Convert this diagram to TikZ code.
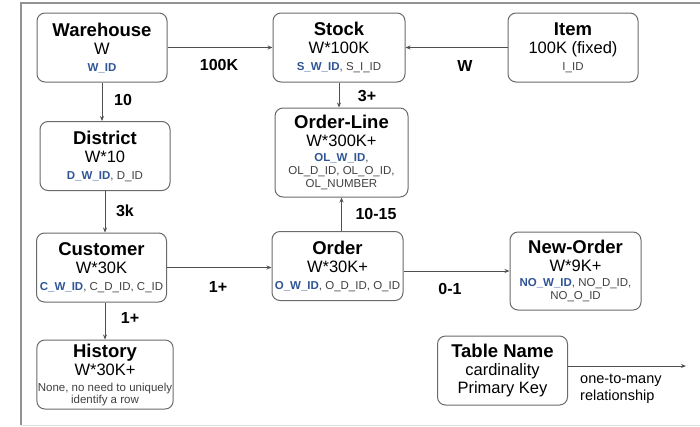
\documentclass[tikz,border=0pt]{standalone}
\usepackage{fontspec}
\setmainfont{Liberation Sans}
\usetikzlibrary{positioning,arrows.meta,calc}
\definecolor{keyblue}{HTML}{2F5597}
\definecolor{keygray}{HTML}{404040}
\definecolor{boxline}{HTML}{6A6A6A}
\definecolor{arrowline}{HTML}{505050}
\newcommand{\tname}[1]{{\fontsize{18.5}{18}\selectfont\bfseries #1}}
\newcommand{\tkey}[1]{{\fontsize{11.5}{13}\selectfont\color{keygray}#1}}
\newcommand{\wkey}[1]{\textcolor{keyblue}{\bfseries #1}}
\tikzset{
    tablenode/.style={
        draw=boxline,line width=1pt,rounded corners=8pt,minimum width=130pt,minimum height=69pt,align=center,inner sep=1pt,font=\fontsize{16.5}{18}\selectfont
    },
    cardlabel/.style={
        font=\fontsize{16}{18}\selectfont\bfseries,inner sep=0pt
    },
    rel/.style={
        draw=arrowline,line width=0.9pt,-{Stealth[length=5pt,width=4pt]}
    }
}

\begin{document}
\begin{tikzpicture}[x=1pt,y=-1pt]
\useasboundingbox (0,0) rectangle (700,426);
% frame
\draw[gray!85,line width=1.6pt] (21,425) -- (21,3) -- (700,3);
\draw[gray!25] (21,425) -- (700,425);
% tables
\node[tablenode] (warehouse) at (102,47.5) {\tname{Warehouse}\\ W\\[-1pt] \tkey{\wkey{W\_ID}}};
\node[tablenode,minimum width=132pt] (stock) at (339,47.5) {\tname{Stock}\\ W*100K\\[-1pt] \tkey{\wkey{S\_W\_ID}, S\_I\_ID}};
\node[tablenode] (item) at (573,47.5) {\tname{Item}\\ 100K (fixed)\\[-1pt] \tkey{I\_ID}};
\node[tablenode,minimum width=133pt,minimum height=89pt] (orderline) at (341.5,152.5) {\tname{Order-Line}\\ W*300K+\\[-3pt] \tkey{\wkey{OL\_W\_ID},}\\[-5pt] \tkey{OL\_D\_ID, OL\_O\_ID,}\\[-5pt] \tkey{OL\_NUMBER}};
\node[tablenode] (district) at (105,156) {\tname{District}\\ W*10\\[-1pt] \tkey{\wkey{D\_W\_ID}, D\_ID}};
\node[tablenode] (customer) at (101.5,267.5) {\tname{Customer}\\ W*30K\\[-1pt] \tkey{\wkey{C\_W\_ID}, C\_D\_ID, C\_ID}};
\node[tablenode,minimum width=131pt] (order) at (337.5,266) {\tname{Order}\\ W*30K+\\[-1pt] \tkey{\wkey{O\_W\_ID}, O\_D\_ID, O\_ID}};
\node[tablenode,minimum width=131pt,minimum height=78pt] (neworder) at (575.5,271) {\tname{New-Order}\\ W*9K+\\[-3pt] \tkey{\wkey{NO\_W\_ID}, NO\_D\_ID,}\\[-5pt] \tkey{NO\_O\_ID}};
\node[tablenode] (history) at (105,374.5) {\tname{History}\\ W*30K+\\[-2pt] \tkey{None, no need to uniquely}\\[-6pt] \tkey{identify a row}};
\node[tablenode] (legend) at (502.5,370.5) {\tname{Table Name}\\ cardinality\\ Primary Key};
\coordinate (legendend) at (686,366);
% relationships
\draw[rel] (warehouse.east) -- (stock.west);
\draw[rel] (item.west) -- (stock.east);
\draw[rel] (stock.south) -- (stock.south |- orderline.north);
\draw[rel] (order.north -| orderline.south) -- (orderline.south);
\draw[rel] (warehouse.south) -- (warehouse.south |- district.north);
\draw[rel] (district.south) -- (district.south |- customer.north);
\draw[rel] (history.north |- customer.south) -- (history.north);
\draw[rel] (customer.east) -- (customer.east -| order.west);
\draw[rel] (neworder.west -| order.east) -- (neworder.west);
\draw[rel] (legendend -| legend.east) -- (legendend);
% cardinalities
\node[cardlabel] (w2s) at (219,65) {100K};
\node[cardlabel] (i2s) at (465,66) {W};
\node[cardlabel] (s2ol) at (367,96) {3+};
\node[cardlabel] (w2d) at (123,100) {10};
\node[cardlabel] (d2c) at (125,211) {3k};
\node[cardlabel] (o2ol) at (376,214) {10-15};
\node[cardlabel] (c2o) at (218,287) {1+};
\node[cardlabel] (o2no) at (450,289) {0-1};
\node[cardlabel] (c2h) at (130,318) {1+};
\node[align=left,anchor=west,inner sep=0pt,font=\fontsize{14.5}{17}\selectfont] (legendtext) at (580,389) {one-to-many\\relationship};
\end{tikzpicture}
\end{document}
